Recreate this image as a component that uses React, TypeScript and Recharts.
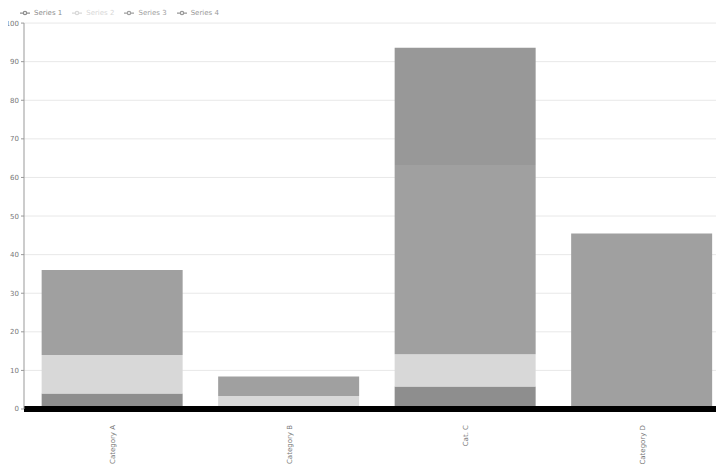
import { BarChart, Bar, XAxis, YAxis, CartesianGrid, Legend } from 'recharts'

const categories = ['Category A', 'Category B', 'Cat. C', 'Category D']
const seriesNames = ['Series 1', 'Series 2', 'Series 3', 'Series 4']
const series1 = [4, 0, 5.8, 0]
const series2 = [10, 3.4, 8.4, 0]
const series3 = [22, 5, 49, 45.5]
const series4 = [0, 0, 30.4, 0]
const yTicks = [0, 10, 20, 30, 40, 50, 60, 70, 80, 90, 100]

const colors = ['#8e8e8e', '#d8d8d8', '#a0a0a0', '#989898']

const data = categories.map((name, i) => ({
  name,
  s1: series1[i],
  s2: series2[i],
  s3: series3[i],
  s4: series4[i],
}))

const tickStyle = { fill: '#777', fontSize: 7 }

function VerticalTick({ x, y, payload }: any) {
  return (
    <text x={x} y={y + 8} transform={`rotate(-90 ${x} ${y + 8})`} textAnchor="end" dy={3} fill="#777" fontSize={7}>
      {payload.value}
    </text>
  )
}

export default function App() {
  return (
    <div style={{ margin: -8, width: 724, height: 472, overflow: 'hidden', background: '#fff', fontFamily: '"DejaVu Sans", sans-serif' }}>
      <BarChart width={724} height={472} data={data} margin={{ top: 13, right: -6, bottom: 0, left: 0 }} barCategoryGap="10%">
        <CartesianGrid stroke="#e8e8e8" vertical={false} />
        <XAxis
          dataKey="name"
          height={63}
          axisLine={{ stroke: '#000', strokeWidth: 6 }}
          tickLine={false}
          interval={0}
          tick={<VerticalTick />}
        />
        <YAxis
          domain={[0, 100]}
          ticks={yTicks}
          width={24}
          tick={tickStyle}
          tickSize={3}
          axisLine={{ stroke: '#999' }}
          tickLine={{ stroke: '#999' }}
        />
        <Legend
          verticalAlign="top"
          align="left"
          iconType="line"
          iconSize={10}
          wrapperStyle={{ top: 8, left: 20, fontSize: 7, color: '#888', lineHeight: '10px' }}
        />
        <Bar dataKey="s1" name={seriesNames[0]} stackId="a" fill={colors[0]} isAnimationActive={false} />
        <Bar dataKey="s2" name={seriesNames[1]} stackId="a" fill={colors[1]} isAnimationActive={false} />
        <Bar dataKey="s3" name={seriesNames[2]} stackId="a" fill={colors[2]} isAnimationActive={false} />
        <Bar dataKey="s4" name={seriesNames[3]} stackId="a" fill={colors[3]} isAnimationActive={false} />
      </BarChart>
    </div>
  )
}
